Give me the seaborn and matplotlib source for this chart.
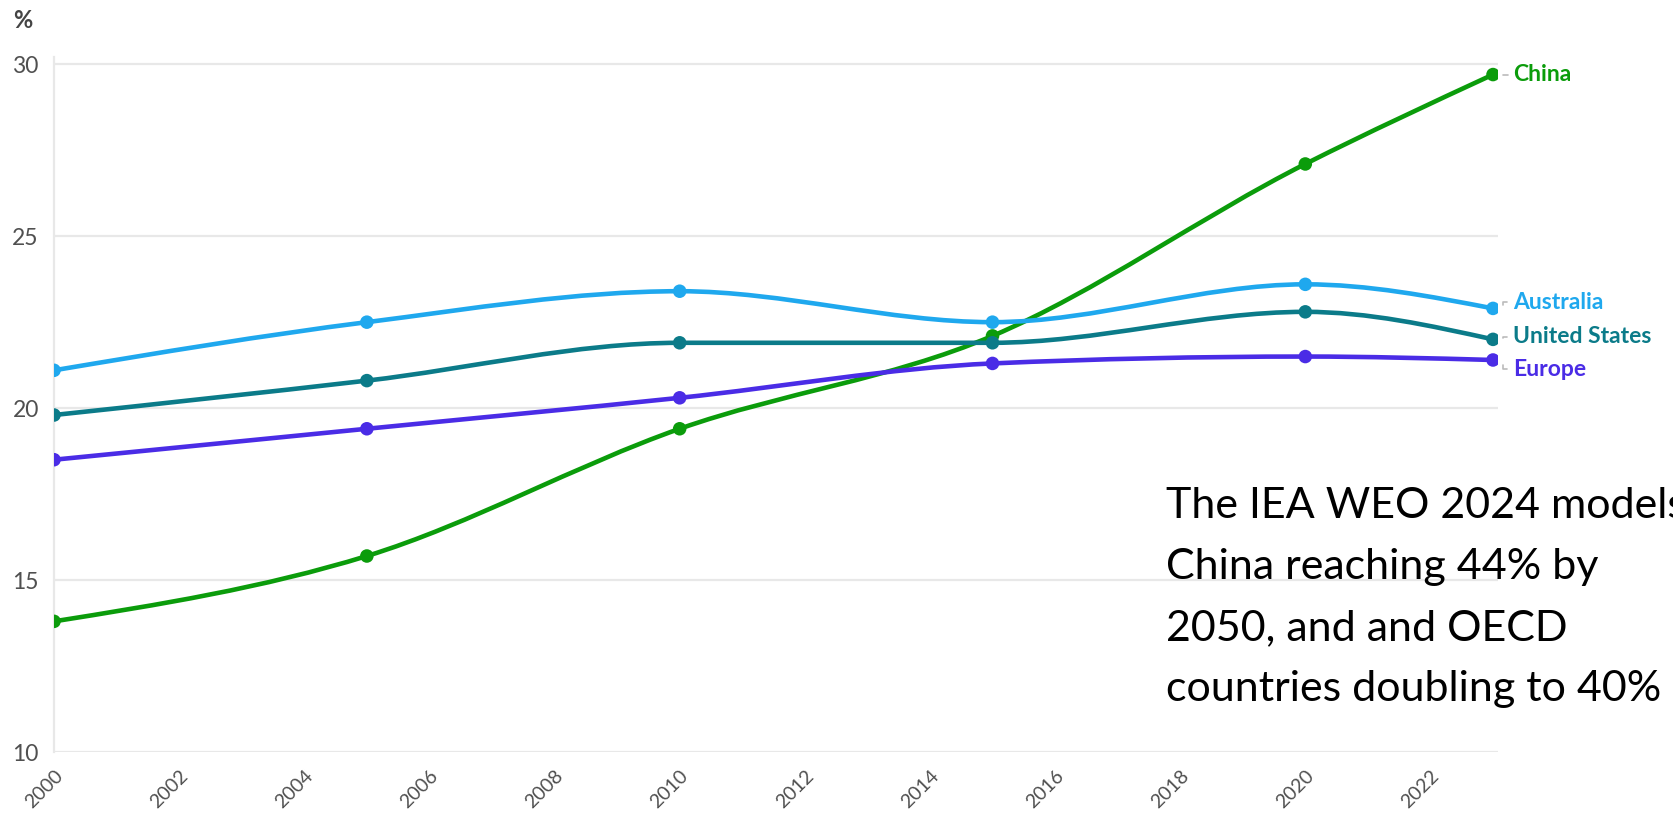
import numpy as np
import pandas as pd
import matplotlib
matplotlib.use("Agg")
import matplotlib.pyplot as plt
import seaborn as sns
from matplotlib.path import Path
from matplotlib.patches import PathPatch
from matplotlib.lines import Line2D

# ---------------- data ----------------
years = [2000, 2005, 2010, 2015, 2020, 2023]
china = [13.8, 15.7, 19.4, 22.1, 27.1, 29.7]
australia = [21.1, 22.5, 23.4, 22.5, 23.6, 22.9]
united_states = [19.8, 20.8, 21.9, 21.9, 22.8, 22.0]
europe = [18.5, 19.4, 20.3, 21.3, 21.5, 21.4]

series_names = ["China", "Australia", "United States", "Europe"]
series_values = [china, australia, united_states, europe]
colors = ["#0b9c0b", "#1fa8ee", "#0b7b89", "#4a2ce6"]

x_ticks = list(range(2000, 2023, 2))
y_ticks = [10, 15, 20, 25, 30]
y_unit = "%"
note_lines = ["The IEA WEO 2024 models", "China reaching 44% by",
              "2050, and and OECD", "countries doubling to 40%"]

df = pd.DataFrame({
    "year": np.tile(years, len(series_names)),
    "value": np.concatenate(series_values),
    "series": np.repeat(series_names, len(years)),
})

# ---------------- style ----------------
sns.set_theme(style="white")
plt.rcParams["font.family"] = ["Lato", "DejaVu Sans"]

fig = plt.figure(figsize=(16.73, 8.16), dpi=100)
ax = fig.add_axes([0.0323, 0.0784, 0.8631, 0.8513])


def monotone_path(xs, ys):
    xs = np.asarray(xs, float)
    ys = np.asarray(ys, float)
    n = len(xs)
    h = np.diff(xs)
    s = np.diff(ys) / h
    m = np.zeros(n)
    for i in range(1, n - 1):
        s0, s1 = s[i - 1], s[i]
        p = (s0 * h[i] + s1 * h[i - 1]) / (h[i - 1] + h[i])
        m[i] = (np.sign(s0) + np.sign(s1)) * min(abs(s0), abs(s1), 0.5 * abs(p))
    m[0] = (3 * s[0] - m[1]) / 2
    m[-1] = (3 * s[-1] - m[-2]) / 2
    verts = [(xs[0], ys[0])]
    codes = [Path.MOVETO]
    for i in range(n - 1):
        dx = h[i] / 3
        verts += [(xs[i] + dx, ys[i] + dx * m[i]),
                  (xs[i + 1] - dx, ys[i + 1] - dx * m[i + 1]),
                  (xs[i + 1], ys[i + 1])]
        codes += [Path.CURVE4] * 3
    return Path(verts, codes)


for name, vals, col in zip(series_names, series_values, colors):
    ax.add_patch(PathPatch(monotone_path(years, vals), facecolor="none",
                           edgecolor=col, lw=3.3, capstyle="round",
                           joinstyle="round", zorder=3))

sns.scatterplot(data=df, x="year", y="value", hue="series",
                palette=dict(zip(series_names, colors)), s=95,
                edgecolor="none", legend=False, ax=ax, zorder=4)

# ---------------- axes ----------------
ax.set_xlim(2000, 2023.08)
ax.set_ylim(10, 30.2)
ax.set_xticks(x_ticks)
ax.set_yticks(y_ticks)
ax.set_xticklabels([str(t) for t in x_ticks], rotation=45, ha="right",
                   va="top", rotation_mode="anchor")
ax.set_xlabel("")
ax.set_ylabel("")
ax.grid(False)
ax.yaxis.grid(True, color="#e8e8e8", lw=1.6)
ax.set_axisbelow(True)
for side in ["top", "right", "bottom"]:
    ax.spines[side].set_visible(False)
ax.spines["left"].set_color("#e8e8e8")
ax.spines["left"].set_linewidth(1.6)
ax.tick_params(axis="y", length=7, width=1.6, color="#e8e8e8",
               labelcolor="#505050", labelsize=16.5, pad=4)
ax.tick_params(axis="x", length=8, width=1.6, color="#e8e8e8",
               labelcolor="#505050", labelsize=14, pad=3)

# y unit label
fig.text(23 / 1673, 1 - 21 / 816, y_unit, fontsize=17, fontweight="bold",
         color="#444444", ha="center", va="center")

# ---------------- end labels ----------------
label_dy = [0.0, 4.5, 2.0, -6.5]   # points
for name, vals, col, dy in zip(series_names, series_values, colors, label_dy):
    x_end, y_end = years[-1], vals[-1]
    ax.annotate(name, (x_end, y_end), xytext=(14.5, dy),
                textcoords="offset points", ha="left", va="center",
                fontsize=16.5, fontweight="bold", color=col,
                annotation_clip=False)
    base = ax.transData.transform((x_end, y_end))
    if abs(dy) > 1:
        pts = np.array([[7.5, dy * 0.55], [7.5, dy], [10.0, dy]])
    else:
        pts = np.array([[7.5, 0], [10.5, 0]])
    pts_px = base + pts * fig.dpi / 72.0
    fig.add_artist(Line2D(pts_px[:, 0], pts_px[:, 1], transform=None,
                          color="#bbbbbb", lw=1.2))

# ---------------- note ----------------
baselines = [518.5, 579.5, 640.5, 701.5]
for line, b in zip(note_lines, baselines):
    fig.text(1166 / 1673, 1 - b / 816, line, fontsize=31, color="black",
             ha="left", va="baseline", family=["Lato", "DejaVu Sans"])

fig.savefig("out.png", dpi=100)
